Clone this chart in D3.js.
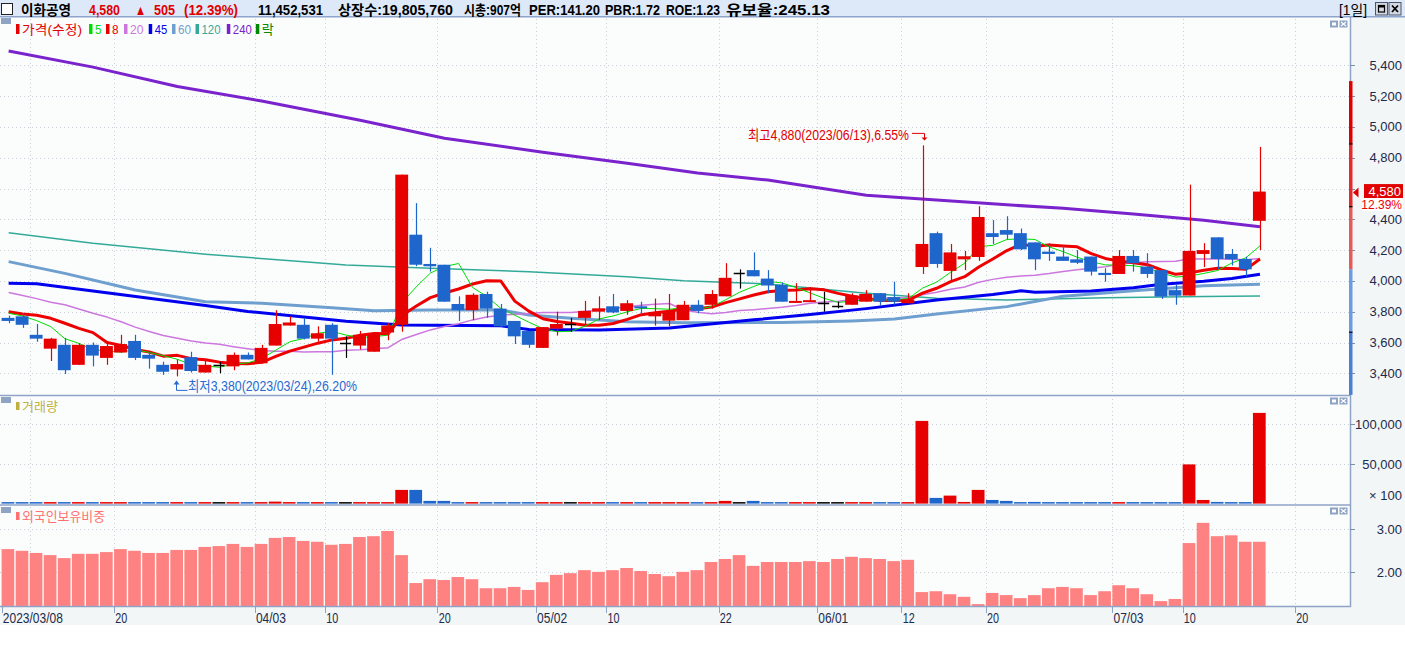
<!DOCTYPE html>
<html><head><meta charset="utf-8">
<script src="https://cdn.jsdelivr.net/npm/d3@7"></script>
<style>
html,body{margin:0;padding:0;background:#fff;}
svg{display:block;}
text{font-family:"Liberation Sans","Noto Sans CJK KR",sans-serif;}
</style></head><body>
<svg id="c" width="1405" height="648"></svg>
<script>
// ---------------- DATA ----------------
const dates = ["03/08","03/09","03/10","03/13","03/14","03/15","03/16","03/17","03/20","03/21","03/22","03/23","03/24","03/27","03/28","03/29","03/30","03/31",
"04/03","04/04","04/05","04/06","04/07","04/10","04/11","04/12","04/13","04/14","04/17","04/18","04/19","04/20","04/21","04/24","04/25","04/26","04/27","04/28",
"05/02","05/03","05/04","05/08","05/09","05/10","05/11","05/12","05/15","05/16","05/17","05/18","05/19","05/22","05/23","05/24","05/25","05/26","05/30","05/31",
"06/01","06/02","06/05","06/07","06/08","06/09","06/12","06/13","06/14","06/15","06/16","06/19","06/20","06/21","06/22","06/23","06/26","06/27","06/28","06/29","06/30",
"07/03","07/04","07/05","07/06","07/07","07/10","07/11","07/12","07/13","07/14","07/17"];
const futureDates = ["07/18","07/19","07/20","07/21","07/24","07/25"];
const opens  = [3760,3770,3650,3560,3585,3455,3585,3500,3535,3610,3520,3455,3425,3505,3405,3455,3445,3520,3465,3580,3710,3715,3625,3715,3600,3580,3540,3665,3715,4300,
4110,4105,3850,3810,3915,3820,3740,3675,3565,3690,3720,3760,3800,3835,3805,3835,3770,3742,3745,3845,3845,3900,4050,4070,4015,3975,3860,3865,3855,3837,
3845,3865,3920,3895,3855,4090,4310,4065,4140,4155,4310,4330,4310,4250,4190,4158,4140,4158,4052,4045,4162,4093,4070,3940,3905,4175,4283,4175,4142,4390];
const highs  = [3775,3790,3720,3630,3630,3595,3600,3605,3650,3650,3540,3475,3490,3540,3480,3475,3535,3535,3585,3810,3770,3760,3705,3725,3640,3675,3655,3725,4690,4505,
4215,4105,3900,3920,3930,3850,3740,3675,3700,3800,3760,3870,3900,3915,3875,3865,3885,3915,3870,3875,3940,4115,4075,4185,4070,3990,3985,3960,3930,3865,
3920,3940,3920,3995,3920,4880,4320,4240,4195,4485,4395,4420,4340,4250,4245,4225,4200,4158,4082,4200,4200,4180,4070,3978,4625,4245,4283,4207,4157,4870];
const lows   = [3725,3695,3605,3480,3395,3455,3445,3455,3535,3486,3430,3390,3380,3405,3405,3400,3420,3490,3465,3580,3710,3620,3605,3390,3500,3555,3540,3615,3670,4095,
4060,3865,3740,3745,3760,3700,3590,3565,3565,3645,3670,3715,3745,3790,3780,3780,3710,3705,3745,3790,3820,3900,3950,4030,3920,3865,3858,3865,3800,3822,
3845,3865,3840,3845,3855,4045,4085,4000,4070,4130,4240,4270,4200,4070,4130,4130,4110,4035,3995,4045,4060,4020,3883,3845,3905,4090,4077,4100,4028,4200];
const closes = [3740,3715,3625,3625,3420,3585,3515,3577,3590,3500,3495,3410,3460,3415,3455,3455,3520,3490,3565,3720,3730,3625,3660,3625,3600,3650,3655,3710,4690,4105,
4095,3865,3810,3910,3820,3705,3640,3585,3700,3720,3720,3805,3822,3795,3855,3830,3795,3805,3845,3805,3915,4020,4050,4030,3970,3865,3870,3875,3855,3837,
3905,3915,3865,3865,3880,4240,4110,4185,4160,4415,4285,4300,4205,4140,4175,4130,4118,4060,4038,4162,4115,4045,3898,3904,4195,4200,4142,4140,4075,4580];
// volume in units of 100 shares
const volumes = [1300,1200,1300,1400,1500,1300,1200,1300,1400,1300,1200,1300,1400,1300,1200,1100,1300,1100,1400,2500,1300,1200,1300,1400,1100,1300,1200,1300,17300,17300,
3400,3400,1300,1200,1300,1200,1300,1200,1300,1200,1100,1300,1200,1300,1200,1100,1300,1200,1300,1200,1300,3400,1200,3400,1300,1200,1300,1200,1100,1100,
1200,1300,1200,1300,1200,104400,7200,10100,2100,17300,4600,3400,1100,2100,1200,1100,1200,1100,1100,1300,1100,1200,1100,1200,49500,4600,2100,1100,1100,114525.31];
const foreignRatio = [2.54,2.50,2.45,2.40,2.33,2.43,2.43,2.47,2.54,2.50,2.45,2.45,2.52,2.52,2.59,2.61,2.66,2.59,2.66,2.80,2.82,2.73,2.71,2.64,2.66,2.82,2.84,2.96,2.40,1.75,
1.84,1.82,1.89,1.84,1.63,1.63,1.66,1.59,1.77,1.94,1.98,2.05,2.01,2.05,2.10,2.03,1.96,1.91,2.01,2.05,2.24,2.31,2.40,2.15,2.24,2.24,2.24,2.26,2.24,2.31,
2.36,2.33,2.31,2.26,2.29,1.54,1.56,1.49,1.43,1.26,1.52,1.47,1.40,1.47,1.63,1.66,1.63,1.47,1.56,1.70,1.63,1.49,1.33,1.38,2.68,3.15,2.84,2.86,2.71,2.71];
// moving averages: leading values (history before the window), rest computed from closes
const ma5Head  = [3790,3772,3742,3703];
const ma8Head  = [3800,3785,3777,3757,3725,3692,3664];
const ma20Head = [3925,3905,3885,3862,3845,3818,3790,3765,3735,3700,3672,3645,3628,3610,3596,3588,3573,3560,3548];
// long averages: [day index, value]
const ma45Pts  = [[0,3984],[2,3981],[6,3934],[10,3888],[14,3840],[17,3802],[21,3766],[24,3738],[28,3714],[35,3708],[37,3684],[42,3681],[47,3694],[53,3747],[57,3782],[61,3820],[66,3876],[70,3912],[72,3936],[73,3926],[77,3934],[80,3956],[82,3978],[85,3997],[87,4015],[89,4043]];
const ma60Pts  = [[0,4125],[4,4049],[9,3941],[14,3865],[18,3855],[23,3826],[26,3806],[30,3811],[35,3811],[37,3779],[40,3757],[44,3735],[48,3729],[55,3730],[60,3740],[63,3752],[66,3785],[71,3833],[75,3900],[80,3936],[85,3969],[89,3978]];
const ma120Pts = [[0,4313],[6,4244],[14,4173],[21,4125],[24,4103],[30,4082],[37,4060],[44,4027],[48,4001],[54,3980],[61,3920],[66,3887],[71,3876],[78,3890],[85,3898],[89,3902]];
const ma240Pts = [[0,5493],[6,5388],[12,5262],[18,5168],[25,5043],[31,4926],[38,4836],[44,4764],[49,4700],[54,4655],[61,4556],[66,4526],[71,4494],[75,4472],[80,4435],[85,4394],[89,4352]];
const priceTicks = [3400,3600,3800,4000,4200,4400,4600,4800,5000,5200,5400];
const volTicks = [50000,100000];
const ratioTicks = [2,3];
const dateTickDates  = ["03/08","03/20","04/03","04/10","04/20","05/02","05/10","05/22","06/01","06/12","06/20","07/03","07/10","07/20"];
const dateTickLabels = ["2023/03/08","20","04/03","10","20","05/02","10","22","06/01","12","20","07/03","10","20"];
const gridDates = ["03/10","03/20","04/03","04/10","04/20","05/02","05/10","05/22","06/01","06/12","06/20","07/03","07/10","07/20"];
const prevClose = 4075;
const lastPrice = 4580;
const highInfo = {date:"06/13", value:4880, label:"최고4,880(2023/06/13),6.55%"};
const lowInfo  = {date:"03/24", value:3380, label:"최저3,380(2023/03/24),26.20%"};
const legendItems = [["가격(수정)","#e60000"],["5","#00dd00"],["8","#e60000"],["20","#cc77dd"],["45","#0000ee"],["60","#6f9fcf"],["120","#33aa99"],["240","#7a22cc"],["락","#008800"]];

// ---------------- SCALES ----------------
const svg = d3.select("#c");
const slots = dates.concat(futureDates);
const x = d3.scaleBand().domain(slots).range([1.6, 1.6 + 14.06 * slots.length]).padding(0);
const bw = x.bandwidth();
const cx = d => x(d) + bw / 2;
const yP = d3.scaleLinear().domain([3400, 5400]).range([373.3, 65.3]);
const yV = d3.scaleLinear().domain([0, 100000]).range([503.6, 424.4]);
const yR = d3.scaleLinear().domain([2, 3]).range([572.3, 529.3]);

const UP = "#e60000", DN = "#1f66cc", BORDER = "#8fa3c7", AXT = "#1c2a4c";
const PR = 1350;

// ---------------- BACKGROUND ----------------
svg.append("rect").attr("x",0).attr("y",0).attr("width",1405).attr("height",648).attr("fill","#ffffff");
svg.append("rect").attr("x",0).attr("y",17).attr("width",PR).attr("height",589).attr("fill","#fbfdfd");
svg.append("rect").attr("x",PR+1).attr("y",17).attr("width",1405-PR-1).attr("height",608).attr("fill","#f2f6f6");
svg.append("rect").attr("x",0).attr("y",607).attr("width",1405).attr("height",18).attr("fill","#f2f6f6");

// ---------------- GRID ----------------
const grid = svg.append("g").attr("stroke","#c9d0d8").attr("stroke-dasharray","1,3").attr("stroke-width",1);
priceTicks.forEach(v => grid.append("line").attr("x1",0).attr("x2",PR).attr("y1",Math.round(yP(v))+0.5).attr("y2",Math.round(yP(v))+0.5));
volTicks.forEach(v => grid.append("line").attr("x1",0).attr("x2",PR).attr("y1",Math.round(yV(v))+0.5).attr("y2",Math.round(yV(v))+0.5));
ratioTicks.forEach(v => grid.append("line").attr("x1",0).attr("x2",PR).attr("y1",Math.round(yR(v))+0.5).attr("y2",Math.round(yR(v))+0.5));
gridDates.forEach(d => grid.append("line").attr("x1",Math.round(x(d))+0.5).attr("x2",Math.round(x(d))+0.5).attr("y1",19).attr("y2",606));

// ---------------- MOVING AVERAGES ----------------
const clip = svg.append("defs").append("clipPath").attr("id","pc");
clip.append("rect").attr("x",0).attr("y",17).attr("width",PR).attr("height",378);
const topG = svg.append("g").attr("clip-path","url(#pc)");

function sma(n, head) {
  return closes.map((c, i) => {
    if (i < head.length) return head[i];
    return d3.mean(closes.slice(i - n + 1, i + 1));
  });
}
const ma5 = sma(5, ma5Head), ma8 = sma(8, ma8Head), ma20 = sma(20, ma20Head);
const lineGen = d3.line().x(d => d[0]).y(d => d[1]);
function drawSeries(vals, color, w) {
  topG.append("path").attr("d", lineGen(vals.map((v, i) => [cx(dates[i]), yP(v)])))
    .attr("fill","none").attr("stroke",color).attr("stroke-width",w).attr("stroke-linejoin","round");
}
function drawPts(pts, color, w) {
  topG.append("path").attr("d", lineGen(pts.map(p => [cx(dates[p[0]]), yP(p[1])])))
    .attr("fill","none").attr("stroke",color).attr("stroke-width",w).attr("stroke-linejoin","round");
}
drawPts(ma240Pts, "#7a22cc", 3);
drawPts(ma120Pts, "#33aa99", 1.5);
drawPts(ma60Pts, "#6f9fcf", 3);
drawPts(ma45Pts, "#0000ee", 3);
drawSeries(ma20, "#cc77dd", 1.5);
drawSeries(ma8, "#ee0000", 3);
drawSeries(ma5, "#00dd00", 1);

// ---------------- CANDLES ----------------
const cg = topG.append("g");
dates.forEach((d, i) => {
  const o = opens[i], c = closes[i], h = highs[i], l = lows[i];
  const col = c > o ? UP : (c < o ? DN : "#000");
  const xc = Math.round(cx(d)) + 0.5;
  cg.append("line").attr("x1",xc).attr("x2",xc).attr("y1",yP(h)).attr("y2",yP(l)).attr("stroke",col).attr("stroke-width",1.2);
  if (c === o) {
    cg.append("line").attr("x1",x(d)+1).attr("x2",x(d)+bw-2).attr("y1",Math.round(yP(c))+0.5).attr("y2",Math.round(yP(c))+0.5).attr("stroke","#000").attr("stroke-width",1.5);
  } else {
    const y1 = yP(Math.max(o,c)), y2 = yP(Math.min(o,c));
    cg.append("rect").attr("x",x(d)).attr("width",bw-1.2).attr("y",y1).attr("height",Math.max(2,y2-y1)).attr("fill",col);
  }
});

// ---------------- VOLUME ----------------
const vg = svg.append("g");
dates.forEach((d, i) => {
  const col = closes[i] > opens[i] ? UP : (closes[i] < opens[i] ? DN : "#000");
  const yy = Math.min(yV(volumes[i]), yV(0) - 1.5);
  vg.append("rect").attr("x",x(d)).attr("width",bw-1.3).attr("y",yy).attr("height",yV(0)-yy).attr("fill",col);
});

// ---------------- FOREIGN RATIO ----------------
const rg = svg.append("g");
dates.forEach((d, i) => {
  rg.append("rect").attr("x",x(d)).attr("width",bw-1.4).attr("y",yR(foreignRatio[i])).attr("height",606-yR(foreignRatio[i])).attr("fill","#ff8282");
});

// ---------------- BORDERS ----------------
const bd = svg.append("g").attr("stroke",BORDER).attr("stroke-width",1.5);
[395.5, 505, 606.5].forEach(yy => bd.append("line").attr("x1",0).attr("x2",PR+1).attr("y1",yy).attr("y2",yy));
bd.append("line").attr("x1",PR+0.5).attr("x2",PR+0.5).attr("y1",17).attr("y2",607);

// ---------------- RIGHT AXES ----------------
function rText(parent, str, xr, yy, col, fs) {
  return parent.append("text").attr("x",xr).attr("y",yy).attr("text-anchor","end").attr("font-size",fs || 13)
    .attr("fill",col || AXT).text(str);
}
const ax = svg.append("g");
const yl = yP(lastPrice);
priceTicks.forEach(v => {
  ax.append("line").attr("x1",PR).attr("x2",PR+5).attr("y1",Math.round(yP(v))+0.5).attr("y2",Math.round(yP(v))+0.5).attr("stroke","#7d8fb0");
  if (Math.abs(yP(v) - yl) > 12) rText(ax, d3.format(",")(v), 1402, yP(v)+4.5);   // the label under the current-price box is covered
});
volTicks.forEach(v => {
  ax.append("line").attr("x1",PR).attr("x2",PR+5).attr("y1",Math.round(yV(v))+0.5).attr("y2",Math.round(yV(v))+0.5).attr("stroke","#7d8fb0");
  rText(ax, d3.format(",")(v), 1402, yV(v)+4.5);
});
rText(ax, "× 100", 1402, 499.5);
ratioTicks.forEach(v => {
  ax.append("line").attr("x1",PR).attr("x2",PR+5).attr("y1",Math.round(yR(v))+0.5).attr("y2",Math.round(yR(v))+0.5).attr("stroke","#7d8fb0");
  rText(ax, d3.format(".2f")(v), 1402, yR(v)+4.5);
});

// price limit bar (±10%, ±20%, ±30% from previous close)
const lim = [1.3,1.2,1.1,1.0,0.9,0.8].map(k => prevClose * k);
const limCols = ["#e00000","#e42a2a","#e65a5a","#6b9be0","#4a7fd4"];
for (let k = 0; k < 5; k++) {
  const ya = Math.max(17, yP(lim[k])), yb = Math.min(395, yP(lim[k+1]));
  if (yb > ya) svg.append("rect").attr("x",PR-1).attr("width",3.5).attr("y",ya).attr("height",yb-ya).attr("fill",limCols[k]);
}
[1.2,1.1,0.9].forEach(k => svg.append("rect").attr("x",PR-1).attr("width",3.5).attr("y",yP(prevClose*k)-0.5).attr("height",1.2).attr("fill","#000"));

// current price marker
const mk = svg.append("g");
mk.append("path").attr("d",`M${PR+3},${yl+1} L${PR+8.5},${yl-4} L${PR+8.5},${yl+6} Z`).attr("fill","#e00000");
mk.append("rect").attr("x",1364).attr("y",yl-7.5).attr("width",39).attr("height",14).attr("fill","#e00000");
rText(mk, d3.format(",")(lastPrice), 1401, yl+4.5, "#fff");
mk.append("rect").attr("x",1362).attr("y",yl+6.5).attr("width",41).attr("height",13).attr("fill","#fff");
rText(mk, d3.format(".2f")((lastPrice-prevClose)/prevClose*100)+"%", 1402, yl+17.5, "#ee0000", 12);

// ---------------- DATE AXIS ----------------
dateTickDates.forEach((d, k) => {
  svg.append("line").attr("x1",Math.round(x(d))+0.5).attr("x2",Math.round(x(d))+0.5).attr("y1",607).attr("y2",613).attr("stroke",BORDER);
  svg.append("text").attr("x",x(d)+1.2).attr("y",623).attr("font-size",15).attr("fill",AXT)
    .attr("textLength",dateTickLabels[k].length*6).attr("lengthAdjust","spacingAndGlyphs").text(dateTickLabels[k]);
});

// ---------------- PANEL CHROME ----------------
[18, 397, 507].forEach(yy => svg.append("rect").attr("x",1).attr("y",yy).attr("width",10).attr("height",6).attr("fill","#8fa3c3"));
[20.5, 397.5, 507.5].forEach(yy => {
  svg.append("rect").attr("x",1330).attr("y",yy).attr("width",8).attr("height",7).attr("fill","#8fa3c3");
  svg.append("rect").attr("x",1332).attr("y",yy+2).attr("width",4).attr("height",3).attr("fill","#fff");
  svg.append("rect").attr("x",1339.5).attr("y",yy).attr("width",8).attr("height",7).attr("fill","#8fa3c3");
  svg.append("path").attr("d",`M1341,${yy+1.5} L1346,${yy+5.5} M1346,${yy+1.5} L1341,${yy+5.5}`).attr("stroke","#fff").attr("stroke-width",1.2);
});

// legend
const legX = [16,89,106,124,148.7,172,195.5,226.8,255.8];
const legW = [60,6.5,6.5,13.5,12.5,13,19,19,12];
legendItems.forEach((it, k) => {
  svg.append("rect").attr("x",legX[k]).attr("y",24).attr("width",3.5).attr("height",10).attr("fill",it[1]);
  svg.append("text").attr("x",legX[k]+6).attr("y",33.5).attr("font-size",13).attr("fill",it[1])
    .attr("textLength",legW[k]).attr("lengthAdjust","spacingAndGlyphs").text(it[0]);
});
svg.append("rect").attr("x",16).attr("y",402).attr("width",3.5).attr("height",8).attr("fill","#c0b040");
svg.append("text").attr("x",22).attr("y",410.5).attr("font-size",13).attr("fill","#c0b040").attr("textLength",36).attr("lengthAdjust","spacingAndGlyphs").text("거래량");
svg.append("rect").attr("x",16).attr("y",512).attr("width",3.5).attr("height",8).attr("fill","#ff7070");
svg.append("text").attr("x",22).attr("y",520.5).attr("font-size",13).attr("fill","#ff7070").attr("textLength",83).attr("lengthAdjust","spacingAndGlyphs").text("외국인보유비중");

// ---------------- ANNOTATIONS ----------------
const hx = Math.round(cx(highInfo.date)) + 1.5, hy = yP(highInfo.value);
svg.append("text").attr("x",748).attr("y",hy-5).attr("font-size",14).attr("fill","#e00000")
  .attr("textLength",161).attr("lengthAdjust","spacingAndGlyphs").text(highInfo.label);
svg.append("path").attr("d",`M912,${hy-12} L${hx},${hy-12} L${hx},${hy-6}`).attr("fill","none").attr("stroke","#e00000").attr("stroke-width",1);
svg.append("path").attr("d",`M${hx-3},${hy-8} L${hx+3},${hy-8} L${hx},${hy-5} Z`).attr("fill","#e00000");

const lx = Math.round(cx(lowInfo.date)) - 0.5, ly = yP(lowInfo.value);
svg.append("path").attr("d",`M${lx},${ly+5} L${lx},${ly+14} L${lx+11},${ly+14}`).attr("fill","none").attr("stroke","#2a6ad0").attr("stroke-width",1);
svg.append("path").attr("d",`M${lx-3},${ly+8} L${lx+3},${ly+8} L${lx},${ly+4} Z`).attr("fill","#2a6ad0");
svg.append("text").attr("x",188).attr("y",ly+15).attr("font-size",14).attr("fill","#2a6ad0")
  .attr("textLength",169).attr("lengthAdjust","spacingAndGlyphs").text(lowInfo.label);

// ---------------- HEADER ----------------
svg.append("rect").attr("x",0).attr("y",0).attr("width",1405).attr("height",16.5).attr("fill","#dde8f8");
svg.append("line").attr("x1",0).attr("x2",1405).attr("y1",16.75).attr("y2",16.75).attr("stroke","#8ea4cc").attr("stroke-width",1.5);
svg.append("rect").attr("x",1.5).attr("y",3.5).attr("width",11).attr("height",11).attr("fill","#fff").attr("stroke","#222").attr("stroke-width",1);
const chg = lastPrice - prevClose;
const headerSegs = [
  ["이화공영",21,50,"#000"],
  [d3.format(",")(lastPrice),89,31,"#e00000"],
  ["▲",135,11,"#e00000"],
  [String(chg),154,21,"#e00000"],
  ["("+d3.format(".2f")(chg/prevClose*100)+"%)",184,54,"#e00000"],
  [d3.format(",")(Math.round(volumes[volumes.length-1]*100)),258,65,"#000"],
  ["상장수:19,805,760",338,115,"#000"],
  ["시총:907억",464,57,"#000"],
  ["PER:141.20",529,71,"#000"],
  ["PBR:1.72",605,55,"#000"],
  ["ROE:1.23",666,54,"#000"],
  ["유보율:245.13",726,104,"#000"]
];
headerSegs.forEach(s => svg.append("text").attr("x",s[1]).attr("y",14.5).attr("font-size",14).attr("font-weight","bold")
  .attr("fill",s[3]).attr("textLength",s[2]).attr("lengthAdjust","spacingAndGlyphs").text(s[0]));
svg.append("text").attr("x",1339).attr("y",14.5).attr("font-size",14).attr("fill","#000").attr("textLength",28).attr("lengthAdjust","spacingAndGlyphs").text("[1일]");
[[1375.5,"r"],[1389,"x"]].forEach(b => {
  svg.append("rect").attr("x",b[0]).attr("y",2.5).attr("width",12).attr("height",12.5).attr("fill","#d4d8e2").attr("stroke","#4a5670").attr("stroke-width",1);
  if (b[1]==="r") {
    svg.append("rect").attr("x",b[0]+3).attr("y",5.5).attr("width",6).attr("height",6.5).attr("fill","none").attr("stroke","#000").attr("stroke-width",1.2);
    svg.append("rect").attr("x",b[0]+3).attr("y",5.5).attr("width",6).attr("height",2).attr("fill","#000");
  } else {
    svg.append("path").attr("d",`M${b[0]+3},5.5 L${b[0]+9},12 M${b[0]+9},5.5 L${b[0]+3},12`).attr("stroke","#000").attr("stroke-width",1.8);
  }
});
</script>
</body></html>
